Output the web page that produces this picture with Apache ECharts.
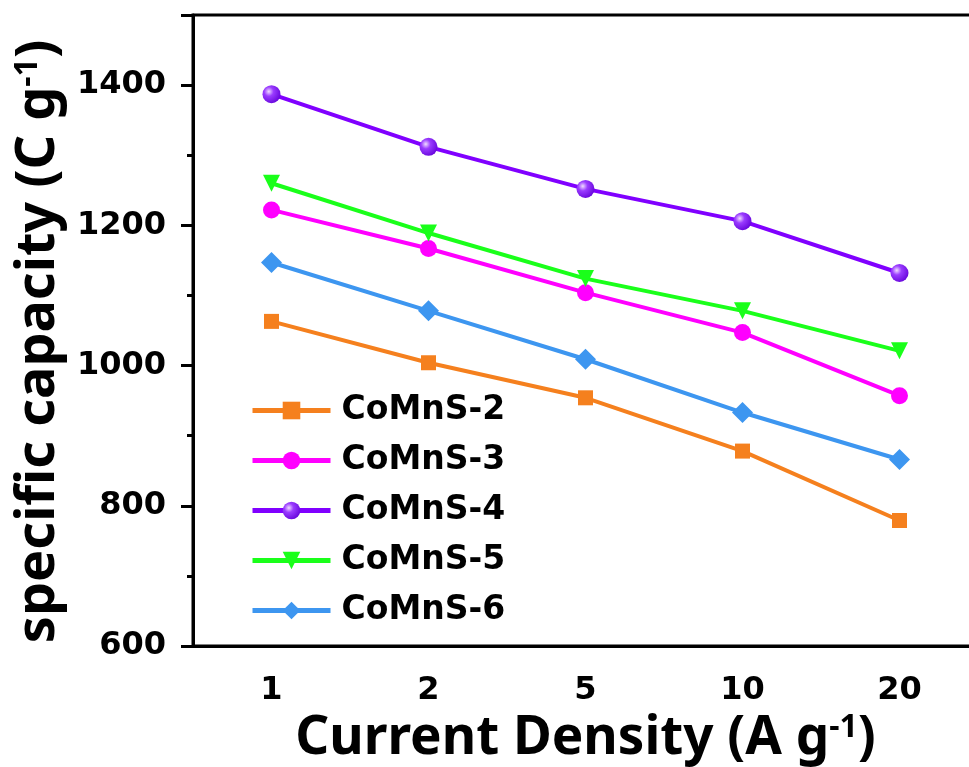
<!DOCTYPE html>
<html>
<head>
    <meta charset="utf-8">
    <title>ECharts</title>
    <script src="https://cdn.jsdelivr.net/npm/echarts@6/dist/echarts.min.js"></script>
</head>
<body style="margin:0;background:#fff;overflow:hidden;">
    <!-- the plot runs past the right edge of the picture, so the container is a bit wider than the window -->
    <div id="chart" style="width: 978px;height:767px;"></div>
    <script type="text/javascript">
        // current densities (A g-1) and capacities (C g-1)
        var densities = ['1', '2', '5', '10', '20'];
        var names = ['CoMnS-2', 'CoMnS-3', 'CoMnS-4', 'CoMnS-5', 'CoMnS-6'];
        var comns2 = [1063, 1004, 954, 878, 779];
        var comns3 = [1222, 1167, 1104, 1047, 957];
        var comns4 = [1387, 1312, 1252, 1206, 1132];
        var comns5 = [1260, 1189, 1124, 1078, 1021];
        var comns6 = [1147, 1078, 1009, 933, 866];

        var chart = echarts.init(document.getElementById('chart'));

        var sphere = {
            type: 'radial', x: 0.35, y: 0.35, r: 0.75,
            colorStops: [
                { offset: 0, color: '#f0dcff' },
                { offset: 0.35, color: '#9a3cff' },
                { offset: 1, color: '#6200d8' }
            ]
        };

        function line(name, data, color, symbol, size, extra) {
            var s = {
                name: name,
                type: 'line',
                data: data,
                symbol: symbol,
                symbolSize: size,
                lineStyle: { color: color, width: 4 },
                itemStyle: { color: color },
                xAxisIndex: 0
            };
            for (var k in extra) s[k] = extra[k];
            return s;
        }

        var option = {
            animation: false,
            grid: {
                left: 193, top: 15, bottom: 121, right: 0,
                outerBoundsMode: 'none',
                show: true, borderColor: '#000', borderWidth: 3
            },
            legend: {
                orient: 'vertical',
                left: 245, top: 389,
                itemWidth: 78, itemHeight: 22, itemGap: 17,
                data: names,
                lineStyle: { width: 5 },
                textStyle: {
                    fontFamily: 'DejaVu Sans', fontWeight: 'bold',
                    fontSize: 33, color: '#000', padding: [0, 0, 0, 6]
                }
            },
            xAxis: [{
                type: 'category',
                data: densities,
                position: 'bottom',
                axisLine: { lineStyle: { color: '#000', width: 3 } },
                axisTick: { alignWithLabel: true, length: 12, lineStyle: { width: 3 } },
                axisLabel: {
                    margin: 29, color: '#000', fontSize: 32,
                    fontFamily: 'DejaVu Sans', fontWeight: 'bold'
                },
                name: 'Current Density (A g{sup|-1})',
                nameLocation: 'middle',
                nameGap: 62,
                nameTextStyle: {
                    fontFamily: 'Noto Sans', fontWeight: 'bold', fontSize: 53, color: '#000',
                    rich: { sup: { fontFamily: 'Noto Sans', fontWeight: 'bold', fontSize: 32, color: '#000', verticalAlign: 'top', padding: [0, 0, 22, 0] } }
                }
            }, {
                // boundary (minor) ticks between categories
                type: 'category',
                data: densities,
                position: 'bottom',
                axisLine: { show: false },
                axisTick: { alignWithLabel: false, length: 6, lineStyle: { width: 3, color: '#000' } },
                axisLabel: { show: false }
            }],
            yAxis: {
                type: 'value',
                min: 600, max: 1500, interval: 200,
                splitLine: { show: false },
                axisLine: { show: true, lineStyle: { color: '#000', width: 3 } },
                axisTick: { show: true, length: 12, lineStyle: { width: 3 } },
                minorTick: { show: true, splitNumber: 2, length: 6, lineStyle: { width: 3, color: '#000' } },
                axisLabel: {
                    showMaxLabel: false,
                    formatter: function (v) { return String(v); },
                    margin: 27, color: '#000', fontSize: 32,
                    fontFamily: 'DejaVu Sans', fontWeight: 'bold'
                },
                name: 'specific capacity (C g{sup|-1})',
                nameLocation: 'middle',
                nameGap: 118,
                nameTextStyle: {
                    fontFamily: 'Noto Sans', fontWeight: 'bold', fontSize: 54, color: '#000',
                    padding: [0, 22, 0, 0],
                    rich: { sup: { fontFamily: 'Noto Sans', fontWeight: 'bold', fontSize: 32, color: '#000', verticalAlign: 'top', padding: [0, 0, 22, 0] } }
                }
            },
            series: [
                line(names[0], comns2, '#f5801e', 'rect', 15),
                line(names[1], comns3, '#ff00ff', 'circle', 17),
                line(names[2], comns4, '#8000ff', 'circle', 18, { itemStyle: { color: sphere } }),
                line(names[3], comns5, '#1aff1a', 'triangle', 17, { symbolRotate: 180 }),
                line(names[4], comns6, '#3d96f0', 'diamond', 21)
            ]
        };
        chart.setOption(option);
    </script>
</body>
</html>
